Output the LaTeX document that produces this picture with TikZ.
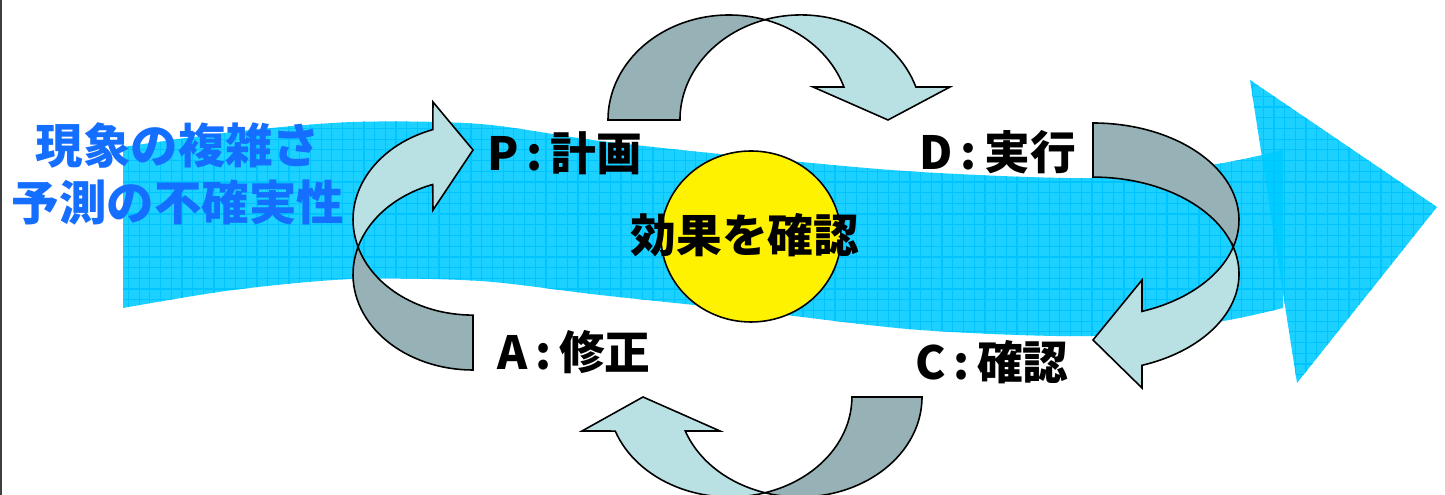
\documentclass[tikz,border=0pt]{standalone}
\usepackage{fontspec}
\newfontfamily\jpfont{Noto Sans CJK JP}
\usetikzlibrary{positioning}

\definecolor{bandcyan}{RGB}{28,208,255}
\definecolor{bandgrid}{RGB}{0,196,255}
\definecolor{banddeep}{RGB}{0,204,255}
\definecolor{arrowdark}{RGB}{150,178,182}
\definecolor{arrowlight}{RGB}{185,224,227}
\definecolor{noteblue}{RGB}{20,110,255}

% the wide band and its head
\def\bandpath{plot[smooth] coordinates {(123,147) (233,132) (353,122) (480,124) (600,141) (760,158) (920,172) (1100,178) (1217,164) (1283,150)}
  -- plot[smooth] coordinates {(1283,308) (1217,322) (1093,336) (920,330) (760,312) (600,295) (480,281) (353,279) (233,290) (123,308)} -- cycle}
\def\headpath{(1250,80) -- (1437,207) -- (1297,383) -- cycle}

\begin{document}
\begin{tikzpicture}[x=0.01cm, y=-0.01cm,
    backside/.style={draw=black, line width=0.45pt, fill=arrowdark},
    frontside/.style={draw=black, line width=0.45pt, fill=arrowlight},
    phase/.style={font=\jpfont\bfseries\fontsize{13}{15}\selectfont, inner sep=0pt},
    note/.style={font=\jpfont\bfseries\fontsize{13.5}{16}\selectfont, text=noteblue, inner sep=0pt}]
    \tikzstyle{gridline}=[draw=bandgrid, line width=0.35pt, step=0.107cm]

    \useasboundingbox (0,0) rectangle (1445,495);
    \draw[black!75, line width=0.6pt] (1,0) -- (1,495);

    % band
    \fill[bandcyan] \bandpath;
    \fill[bandcyan] \headpath;
    \begin{scope}
        \clip \headpath;
        \fill[banddeep] \bandpath;
    \end{scope}
    \begin{scope}
        \clip \bandpath;
        \draw[gridline] (100,60) grid (1300,400);
    \end{scope}
    \begin{scope}
        \clip \headpath;
        \draw[gridline] (1240,60) grid (1445,400);
    \end{scope}

    % A -> P
    \draw[backside] (473,370) arc[start angle=90, end angle=196.7, x radius=120, y radius=95.5]
        arc[start angle=163.3, end angle=90, x radius=120, y radius=95.5] -- cycle;
    \draw[frontside] (358.1,247) arc[start angle=163.3, end angle=250.4, x radius=120, y radius=95.5]
        -- (433,102) -- (473,150) -- (433,210) -- (432.7,184.5)
        arc[start angle=250.4, end angle=196.7, x radius=120, y radius=95.5] -- cycle;

    % P -> D
    \draw[backside] (608,120) arc[start angle=180, end angle=287.3, x radius=121, y radius=105]
        arc[start angle=252.7, end angle=180, x radius=121, y radius=105] -- cycle;
    \draw[frontside] (765,19.7) arc[start angle=252.7, end angle=341.7, x radius=121, y radius=105]
        -- (950,87) -- (888,120) -- (813,87) -- (843.9,87)
        arc[start angle=341.7, end angle=287.3, x radius=121, y radius=105] -- cycle;

    % D -> C
    \draw[backside] (1093,123) arc[start angle=270, end angle=376.2, x radius=146, y radius=97]
        arc[start angle=343.8, end angle=270, x radius=146, y radius=97] -- cycle;
    \draw[frontside] (1233.2,246.9) arc[start angle=-16.2, end angle=70.4, x radius=146, y radius=97]
        -- (1142,388) -- (1093,340) -- (1142,280) -- (1142,311.4)
        arc[start angle=70.4, end angle=16.2, x radius=146, y radius=97] -- cycle;

    % C -> A
    \draw[backside] (922,397) arc[start angle=0, end angle=106.7, x radius=122, y radius=100]
        arc[start angle=73.3, end angle=0, x radius=122, y radius=100] -- cycle;
    \draw[frontside] (765,492.8) arc[start angle=73.3, end angle=160.1, x radius=122, y radius=100]
        -- (582,431) -- (643,397) -- (720,431) -- (685.3,431)
        arc[start angle=160.1, end angle=106.7, x radius=122, y radius=100] -- cycle;

    % centre
    \draw[fill=yellow, line width=0.45pt] (751,236.5) ellipse [x radius=90, y radius=85.5];
    \node[phase] (effect) at (745,235) {効果を確認};

    \node[phase] (plan)  at (565,153) {P\,:\,計画};
    \node[phase] (do)    at (998,152) {D\,:\,実行};
    \node[phase] (check) at (992,362) {C\,:\,確認};
    \node[phase] (act)   at (574,352) {A\,:\,修正};

    \node[note] (noise) at (178,146) {現象の複雑さ};
    \node[note] (predict) [below of=noise, node distance=0.57cm] {予測の不確実性};
\end{tikzpicture}
\end{document}
